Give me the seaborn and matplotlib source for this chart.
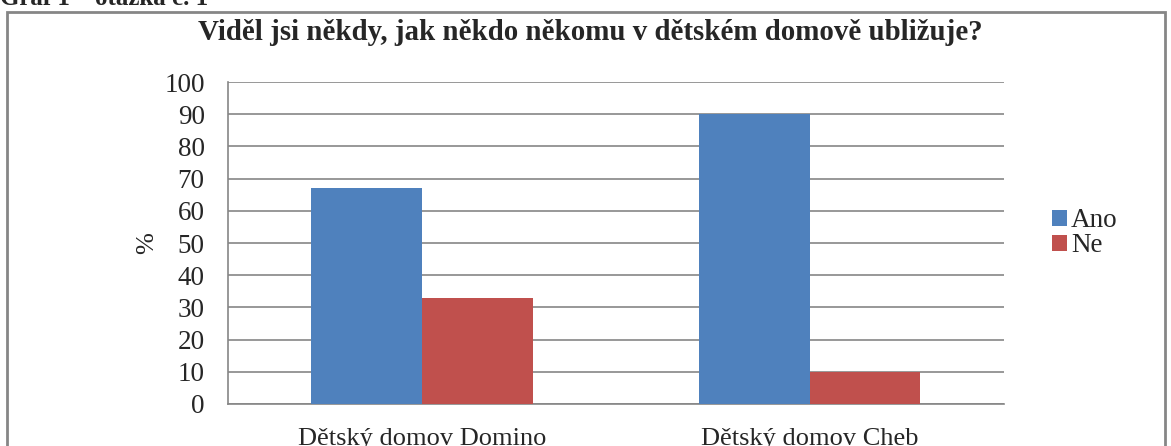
import pandas as pd
import matplotlib
matplotlib.use("Agg")
import matplotlib.pyplot as plt
import seaborn as sns
from matplotlib.patches import Rectangle

# data
domovy = ["Dětský domov Domino", "Dětský domov Cheb"]
ano = [67, 90]
ne = [33, 10]
odpovedi = ["Ano", "Ne"]
y_ticks = list(range(0, 101, 10))

df = pd.DataFrame({
    "domov": domovy * 2,
    "odpoved": ["Ano"] * len(domovy) + ["Ne"] * len(domovy),
    "pct": ano + ne,
})

sns.set_style("white")
plt.rcParams["font.family"] = ["Liberation Serif", "DejaVu Serif"]

fig = plt.figure(figsize=(11.71, 4.46), dpi=100)
ax = fig.add_axes([0.1947, 0.0942, 0.8573 - 0.1947, 0.816 - 0.0942])

sns.barplot(data=df, x="domov", y="pct", hue="odpoved", hue_order=odpovedi,
            palette=["#4F81BD", "#C0504D"], saturation=1, width=0.57,
            errorbar=None, linewidth=0, ax=ax, zorder=3)

grey = "#868686"
ax.set_ylim(0, 100)
ax.set_xlim(-0.5, 1.5)
ax.set_yticks(y_ticks)
ax.yaxis.grid(True, color=grey, lw=1.2, zorder=0)
ax.set_axisbelow(True)
for s in ["top", "right"]:
    ax.spines[s].set_visible(False)
ax.spines["left"].set_color(grey)
ax.spines["bottom"].set_color(grey)
ax.spines["left"].set_linewidth(1.2)
ax.spines["bottom"].set_linewidth(1.2)

ax.tick_params(axis="y", length=5.8, color=grey, width=1.2, labelsize=19.5, pad=11)
ax.tick_params(axis="x", which="major", length=0, labelsize=19, pad=17)
ax.set_xticks([-0.5, 0.5, 1.5], minor=True)
ax.tick_params(axis="x", which="minor", length=6, color=grey, width=1.2)

ax.set_xlabel("")
ax.set_ylabel("%", fontsize=19, labelpad=4)

ax.legend(loc="center left", bbox_to_anchor=(1.048, 0.53), frameon=False,
          fontsize=19.5, handlelength=0.55, handleheight=0.55, handletextpad=0.15,
          labelspacing=0.0, borderaxespad=0)

fig.text(0.504, 1 - 33 / 446, "Viděl jsi někdy, jak někdo někomu v dětském domově ubližuje?",
         ha="center", va="center", fontsize=20.8, fontweight="bold")
fig.text(0.0, 1 - 5 / 446, "Graf 1 – otázka č. 1", ha="left", va="baseline",
         fontsize=18, fontweight="bold")

fig.patches.append(Rectangle((7 / 1171, -0.05), 1158 / 1171, 1.05 - 12 / 446,
                             transform=fig.transFigure, fill=False,
                             edgecolor=grey, lw=2))

fig.savefig("out.png", dpi=100)
